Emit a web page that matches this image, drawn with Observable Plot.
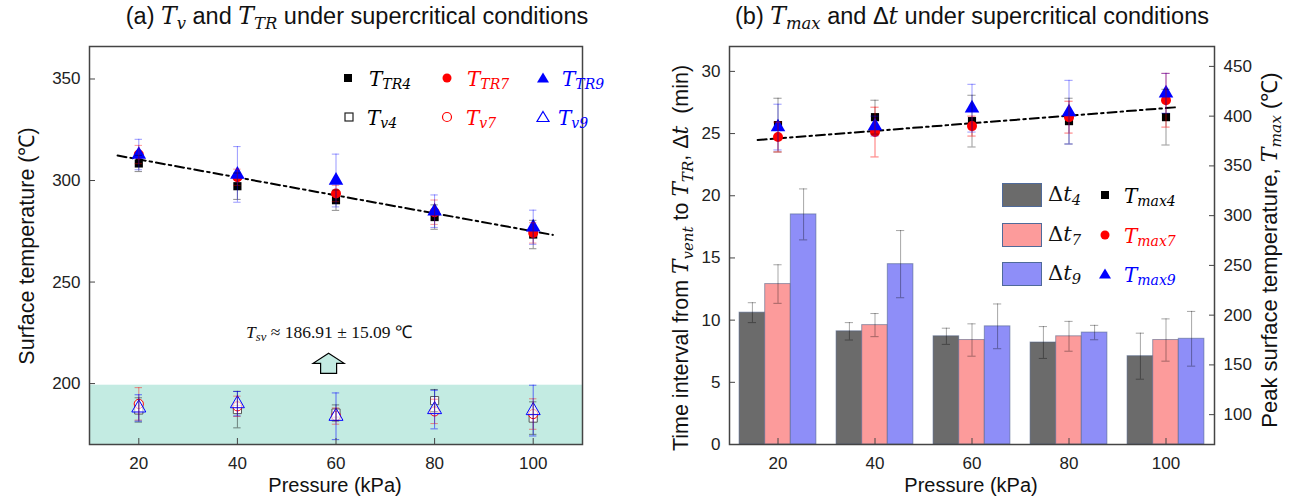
<!DOCTYPE html>
<html><head><meta charset="utf-8">
<script src="https://cdn.jsdelivr.net/npm/d3@7"></script>
<script src="https://cdn.jsdelivr.net/npm/@observablehq/plot@0.6"></script>
<style>
body{margin:0;background:#fff;}
#wrap{position:relative;width:1296px;height:497px;overflow:hidden;font-family:"Liberation Sans",Arial,sans-serif;color:#111;}
.abs{position:absolute;white-space:nowrap;line-height:1;}
.m{font-family:"DejaVu Serif",serif;font-style:italic;}
.m sub{font-size:70%;vertical-align:-0.28em;}
.cm{position:absolute;transform:translate(-50%,-50%);}
.rot{position:absolute;white-space:nowrap;line-height:1;transform:translate(-50%,-50%) rotate(-90deg);}
.plot{position:absolute;top:0;}
</style>
</head><body>
<div id="wrap"></div>
<script>
// ---------- data ----------
const pressures = [20, 40, 60, 80, 100];

// panel (a): surface temperatures (°C)
const TTR4 = [308.4, 297.2, 290.3, 282.0, 273.4];
const TTR4err = [4, 6.5, 5, 6, 7];
const TTR7 = [312.8, 301.6, 293.6, 284.4, 274.2];
const TTR7err = [4.5, 4, 4, 6, 5];
const TTR9 = [312.8, 303.0, 300.0, 284.9, 277.0];
const TTR9err = [7.5, 13.7, 13, 8, 8.4];
const Tv4 = [187.0, 187.2, 185.5, 191.6, 183.0];
const Tv4err = [6, 9, 4, 5.5, 8];
const Tv7 = [190.0, 188.8, 184.0, 186.3, 185.0];
const Tv7err = [8, 5, 4, 6, 7.5];
const Tv9 = [188.0, 190.1, 183.9, 187.2, 186.7];
const Tv9err = [6.5, 6, 11.5, 9.5, 12.5];
const trendTR = [{p: 15.7, T: 312.3}, {p: 104, T: 273.2}];
const svBand = [{lo: 170, hi: 199.2}];
const svArrow = [{p: 58.5, T: 210}];

// panel (b): time intervals (min) and peak temperatures (°C)
const dt4 = [10.6, 9.1, 8.7, 8.2, 7.1];
const dt4err = [0.8, 0.7, 0.65, 1.28, 1.85];
const dt7 = [12.9, 9.6, 8.4, 8.7, 8.4];
const dt7err = [1.55, 0.93, 1.3, 1.2, 1.7];
const dt9 = [18.5, 14.5, 9.5, 9.0, 8.5];
const dt9err = [2.05, 2.7, 1.8, 0.58, 2.2];
const Tmax4 = [391, 399, 395, 395, 399];
const Tmax4err = [27, 17, 26, 23, 28];
const Tmax7 = [379, 384, 390, 399, 416];
const Tmax7err = [15, 25, 10, 16, 27];
const Tmax9 = [389, 390, 408, 404, 423];
const Tmax9err = [23, 10, 24, 32, 20];
const trendMax = [{p: 15.8, T: 376}, {p: 102.3, T: 409}];

const yTicksA = [200, 250, 300, 350];
const yTicksBL = [0, 5, 10, 15, 20, 25, 30];
const yTicksBR = [100, 150, 200, 250, 300, 350, 400, 450];

// ---------- helpers ----------
const rows = (vals, errs) => pressures.map((p, i) => ({p, v: vals[i], e: errs[i]}));
const C = {k: "#000000", r: "#ff0000", b: "#0000ff", teal: "#c3ebe2",
  bar4: "#6b6b6b", bar7: "#fc9b9b", bar9: "#8e8ef8"};
const font = {fontFamily: "'Liberation Sans', Arial, sans-serif", fontSize: "17px", color: "#222", background: "transparent", overflow: "visible"};

function errMarks(data, stroke, opacity, cap, yf = d => d) {
  return [
    Plot.ruleX(data, {x: "p", y1: d => yf(d.v - d.e), y2: d => yf(d.v + d.e), stroke, strokeOpacity: opacity, strokeWidth: 1}),
    Plot.ruleY(data, {y: d => yf(d.v - d.e), x1: d => d.p - cap, x2: d => d.p + cap, stroke, strokeOpacity: opacity, strokeWidth: 1}),
    Plot.ruleY(data, {y: d => yf(d.v + d.e), x1: d => d.p - cap, x2: d => d.p + cap, stroke, strokeOpacity: opacity, strokeWidth: 1})
  ];
}
const arrowSymbol = {draw(ctx) {
  ctx.moveTo(0, -10); ctx.lineTo(15.5, 0); ctx.lineTo(8, 0); ctx.lineTo(8, 10);
  ctx.lineTo(-8, 10); ctx.lineTo(-8, 0); ctx.lineTo(-15.5, 0); ctx.closePath();
}};

// ---------- panel (a) ----------
const a4 = rows(TTR4, TTR4err), a7 = rows(TTR7, TTR7err), a9 = rows(TTR9, TTR9err);
const v4 = rows(Tv4, Tv4err), v7 = rows(Tv7, Tv7err), v9 = rows(Tv9, Tv9err);
const capA = 0.75;
const plotA = Plot.plot({
  width: 648, height: 497,
  marginLeft: 89, marginRight: 66, marginTop: 46, marginBottom: 53,
  x: {domain: [10, 110]},
  y: {domain: [170, 366]},
  style: font,
  marks: [
    Plot.rect(svBand, {y1: "lo", y2: "hi", fill: C.teal}),
    Plot.line(trendTR, {x: "p", y: "T", stroke: "#000", strokeWidth: 2, strokeDasharray: "9,4,2.5,4"}),
    Plot.dot(v4, {x: "p", y: "v", symbol: "square", r: 4.6, fill: "white", stroke: "#555", strokeWidth: 1}),
    Plot.dot(v7, {x: "p", y: "v", symbol: "circle", r: 4.6, fill: "white", fillOpacity: 0.6, stroke: C.r, strokeWidth: 1}),
    Plot.dot(v9, {x: "p", y: "v", symbol: "triangle", r: 5.2, fill: "white", fillOpacity: 0.6, stroke: C.b, strokeWidth: 1}),
    ...errMarks(v4, "#000", 0.45, capA),
    ...errMarks(v7, C.r, 0.45, capA),
    ...errMarks(v9, C.b, 0.55, capA),
    Plot.dot(a4, {x: "p", y: "v", symbol: "square", r: 4.6, fill: C.k}),
    Plot.dot(a7, {x: "p", y: "v", symbol: "circle", r: 5, fill: C.r}),
    Plot.dot(a9, {x: "p", y: "v", symbol: "triangle", r: 5.4, fill: C.b}),
    ...errMarks(a4, "#000", 0.45, capA),
    ...errMarks(a7, C.r, 0.4, capA),
    ...errMarks(a9, C.b, 0.4, capA),
    Plot.dot(svArrow, {x: "p", y: "T", symbol: arrowSymbol, fill: C.teal, stroke: "#000", strokeWidth: 1.2}),
    Plot.axisX({ticks: pressures, tickSize: -6, tickPadding: 18, label: null, stroke: "#444"}),
    Plot.axisY({ticks: yTicksA, tickSize: -6, tickPadding: 15, label: null, stroke: "#444"}),
    Plot.frame({stroke: "#444", strokeWidth: 1.5})
  ]
});
plotA.classList.add("plot"); plotA.style.left = "0px";

// ---------- panel (b) ----------
const toL = d3.scaleLinear([70, 470], [0, 32]);
const barW = 5.28, capB = 0.85;
const b4 = rows(dt4, dt4err).map(d => ({...d, c: d.p - barW}));
const b7 = rows(dt7, dt7err).map(d => ({...d, c: d.p}));
const b9 = rows(dt9, dt9err).map(d => ({...d, c: d.p + barW}));
const m4 = rows(Tmax4, Tmax4err), m7 = rows(Tmax7, Tmax7err), m9 = rows(Tmax9, Tmax9err);
const barMarks = (data, fill) => [
  Plot.rect(data, {x1: d => d.c - barW / 2, x2: d => d.c + barW / 2, y1: 0, y2: "v", fill, stroke: "#4a5f85", strokeOpacity: 0.55, strokeWidth: 1}),
];
const barErr = (data) => errMarks(data.map(d => ({p: d.c, v: d.v, e: d.e})), "#000", 0.35, capB);
const plotB = Plot.plot({
  width: 648, height: 497,
  marginLeft: 81, marginRight: 82, marginTop: 46, marginBottom: 53,
  x: {domain: [10, 110]},
  y: {domain: [0, 32]},
  style: font,
  marks: [
    ...barMarks(b4, C.bar4), ...barMarks(b7, C.bar7), ...barMarks(b9, C.bar9),
    ...barErr(b4), ...barErr(b7), ...barErr(b9),
    Plot.line(trendMax, {x: "p", y: d => toL(d.T), stroke: "#000", strokeWidth: 2, strokeDasharray: "9,4,2.5,4"}),
    Plot.dot(m4, {x: "p", y: d => toL(d.v), symbol: "square", r: 4.6, fill: C.k}),
    Plot.dot(m7, {x: "p", y: d => toL(d.v), symbol: "circle", r: 5, fill: C.r}),
    Plot.dot(m9, {x: "p", y: d => toL(d.v), symbol: "triangle", r: 5.4, fill: C.b}),
    ...errMarks(m4, "#000", 0.4, capB, toL),
    ...errMarks(m7, C.r, 0.55, capB, toL),
    ...errMarks(m9, C.b, 0.4, capB, toL),
    Plot.axisX({ticks: pressures, tickSize: -6, tickPadding: 18, label: null, stroke: "#444"}),
    Plot.axisY({ticks: yTicksBL, tickSize: -6, tickPadding: 15, label: null, stroke: "#444"}),
    Plot.axisY({anchor: "right", ticks: yTicksBR.map(toL), tickFormat: d => String(Math.round(toL.invert(d))), tickSize: -6, tickPadding: 15, label: null, stroke: "#444"}),
    Plot.frame({stroke: "#444", strokeWidth: 1.5})
  ]
});
plotB.classList.add("plot"); plotB.style.left = "648px";

const wrap = document.getElementById("wrap");
wrap.append(plotA, plotB);

// ---------- text overlays ----------
function add(html, css, cls = "abs") {
  const el = document.createElement("div");
  el.className = cls; el.innerHTML = html;
  Object.assign(el.style, css); wrap.append(el); return el;
}
function marker(shape, color, filled, x, y, s = 10) {
  const h = s / 2;
  let inner;
  if (shape === "square") inner = `<rect x="${-h + 1}" y="${-h + 1}" width="${s - 2}" height="${s - 2}"/>`;
  else if (shape === "circle") inner = `<circle r="${h - 0.5}"/>`;
  else inner = `<path d="M0,${-h}L${h + 0.5},${h - 1}L${-h - 0.5},${h - 1}Z"/>`;
  const st = filled ? `fill="${color}"` : `fill="none" stroke="${color}" stroke-width="1.2"`;
  add(`<svg width="${s + 4}" height="${s + 4}" viewBox="${-h - 2} ${-h - 2} ${s + 4} ${s + 4}"><g ${st}>${inner}</g></svg>`,
      {left: x + "px", top: y + "px", lineHeight: 0}, "cm");
}
// titles
add(`(a) <span class="m">T<sub>v</sub></span> and <span class="m">T<sub>TR</sub></span> under supercritical conditions`,
    {left: "357px", top: "19px", fontSize: "23.5px", transform: "translate(-50%,-50%)"});
add(`(b) <span class="m">T<sub>max</sub></span> and Δ<span class="m">t</span> under supercritical conditions`,
    {left: "972px", top: "19px", fontSize: "23.5px", transform: "translate(-50%,-50%)"});
// x labels
add(`Pressure (kPa)`, {left: "335px", top: "485px", fontSize: "20px", transform: "translate(-50%,-50%)"});
add(`Pressure (kPa)`, {left: "971px", top: "485px", fontSize: "20px", transform: "translate(-50%,-50%)"});
// y labels
add(`Surface temperature (℃)`, {left: "28px", top: "246px", fontSize: "21.5px"}, "rot");
add(`Time interval from <span class="m">T<sub>vent</sub></span> to <span class="m">T<sub>TR</sub></span>, Δ<span class="m">t</span>&nbsp; (min)`,
    {left: "683px", top: "258px", fontSize: "21.5px"}, "rot");
add(`Peak surface temperature, <span class="m">T<sub>max</sub></span> (℃)`, {left: "1272px", top: "250px", fontSize: "22px"}, "rot");

// legend (a)
const legA = [
  ["square", C.k, true, 348, 78, "T<sub>TR4</sub>", "#000", 369],
  ["circle", C.r, true, 447, 78, "T<sub>TR7</sub>", C.r, 467],
  ["triangle", C.b, true, 543, 78, "T<sub>TR9</sub>", C.b, 562],
  ["square", "#222", false, 349, 117, "T<sub>v4</sub>", "#000", 367],
  ["circle", C.r, false, 447, 117, "T<sub>v7</sub>", C.r, 466],
  ["triangle", C.b, false, 543, 117, "T<sub>v9</sub>", C.b, 558]
];
for (const [sh, col, f, x, y, txt, tc, tx] of legA) {
  marker(sh, col, f, x, y, sh === "triangle" ? 11 : 10);
  add(`<span class="m">${txt}</span>`, {left: tx + "px", top: (y + 2) + "px", fontSize: "20px", color: tc, transform: "translateY(-50%)"});
}
// annotation (a)
add(`<span style="font-family:'Liberation Serif',serif"><i>T</i><sub style="font-size:72%;vertical-align:-0.28em"><i>sv</i></sub> ≈ 186.91 ± 15.09 ℃</span>`,
    {left: "329px", top: "334px", fontSize: "17.5px", transform: "translate(-50%,-50%)"});

// legend (b)
const legB = [
  [C.bar4, 195, "t<sub>4</sub>", "square", C.k, "T<sub>max4</sub>", "#000"],
  [C.bar7, 235, "t<sub>7</sub>", "circle", C.r, "T<sub>max7</sub>", C.r],
  [C.bar9, 274, "t<sub>9</sub>", "triangle", C.b, "T<sub>max9</sub>", C.b]
];
for (const [fill, y, dt, sh, col, tm, tc] of legB) {
  add("", {left: "1002px", top: (y - 12) + "px", width: "38px", height: "22px", background: fill, border: "1.5px solid #4f6a9a"});
  add(`Δ<span class="m">${dt}</span>`, {left: "1048px", top: (y + 1) + "px", fontSize: "21px", fontFamily: "'DejaVu Serif',serif", transform: "translateY(-50%)"});
  marker(sh, col, true, 1105, y, sh === "triangle" ? 11 : 10);
  add(`<span class="m">${tm}</span>`, {left: "1124px", top: (y + 2) + "px", fontSize: "20px", color: tc, transform: "translateY(-50%)"});
}
</script>
</body></html>
